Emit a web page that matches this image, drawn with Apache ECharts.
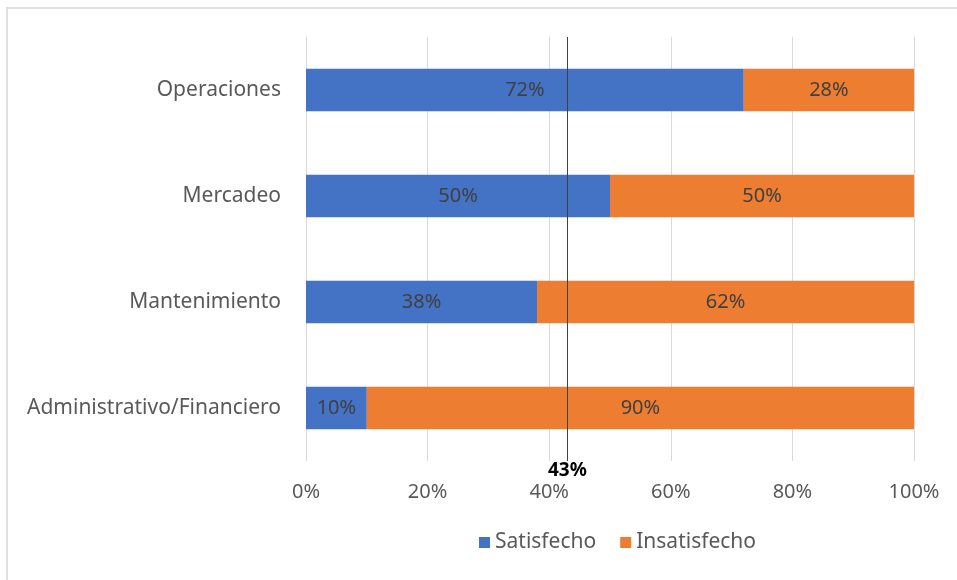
<!DOCTYPE html>
<html>
<head>
<meta charset="utf-8">
<script src="https://cdn.jsdelivr.net/npm/echarts@6/dist/echarts.min.js"></script>
<style>
  html, body { margin: 0; padding: 0; background: #fff; }
  #frame { position: absolute; left: 6px; top: 7px; width: 960px; height: 580px; border: 2px solid #e0e0e0; box-sizing: border-box; }
  #chart { position: absolute; left: 0; top: 0; width: 957px; height: 580px; }
</style>
</head>
<body>
<div id="frame"></div>
<div id="chart"></div>
<script>
// Satisfaction by area (percent)
const categories = ['Operaciones', 'Mercadeo', 'Mantenimiento', 'Administrativo/Financiero'];
const satisfecho = [72, 50, 38, 10];
const insatisfecho = [28, 50, 62, 90];
const promedio = 43;
const xTicks = [0, 20, 40, 60, 80, 100];

const font = 'Noto Sans';
const chart = echarts.init(document.getElementById('chart'));

const labelStyle = {
  show: true,
  position: 'inside',
  formatter: p => p.value + '%',
  color: '#404040',
  fontFamily: font,
  fontSize: 20
};

chart.setOption({
  animation: false,
  grid: { left: 306, right: 43, top: 37, bottom: 119 },
  xAxis: {
    type: 'value',
    min: xTicks[0],
    max: xTicks[xTicks.length - 1],
    interval: 20,
    axisLine: { show: false },
    axisTick: { show: false },
    splitLine: { lineStyle: { color: '#d9d9d9', width: 1 } },
    axisLabel: {
      formatter: v => v + '%',
      color: '#595959',
      fontFamily: font,
      fontSize: 20,
      margin: 21
    }
  },
  yAxis: {
    type: 'category',
    data: categories,
    inverse: true,
    axisLine: { show: false },
    axisTick: { show: false },
    axisLabel: { color: '#595959', fontFamily: font, fontSize: 21, margin: 25 }
  },
  legend: {
    top: 527,
    left: 474,
    itemWidth: 11,
    itemHeight: 11,
    itemGap: 24,
    icon: 'rect',
    textStyle: { color: '#595959', fontFamily: font, fontSize: 21 },
    data: ['Satisfecho', 'Insatisfecho']
  },
  series: [
    {
      name: 'Satisfecho',
      type: 'bar',
      stack: 'total',
      barWidth: '40%',
      itemStyle: { color: '#4472C4' },
      label: labelStyle,
      data: satisfecho,
      markLine: {
        silent: true,
        symbol: 'none',
        lineStyle: { color: '#404040', width: 1, type: 'solid' },
        label: {
          show: true,
          position: 'end',
          formatter: promedio + '%',
          color: '#000',
          fontFamily: font,
          fontWeight: 'bold',
          fontSize: 19,
          distance: 0
        },
        data: [{ xAxis: promedio }]
      }
    },
    {
      name: 'Insatisfecho',
      type: 'bar',
      stack: 'total',
      barWidth: '40%',
      itemStyle: { color: '#ED7D31' },
      label: labelStyle,
      data: insatisfecho
    }
  ]
});
</script>
</body>
</html>
